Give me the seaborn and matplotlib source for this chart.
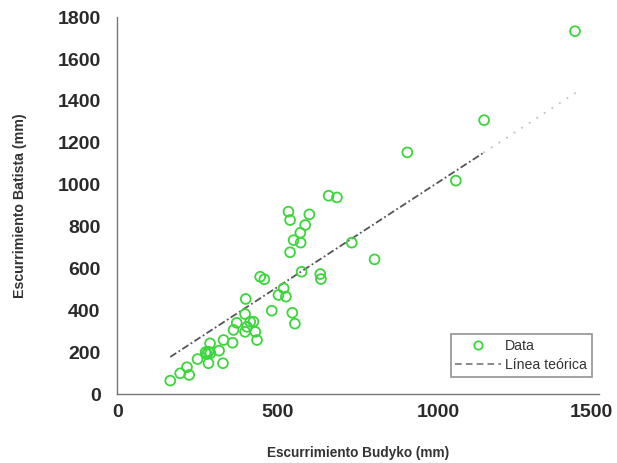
import matplotlib
matplotlib.use("Agg")
import matplotlib.pyplot as plt
import matplotlib.transforms as mtransforms
from matplotlib.lines import Line2D
import seaborn as sns
import pandas as pd

# Observed data (Budyko vs Batista runoff, mm)
budyko = [1425, 1142, 903, 1054, 658, 684, 533, 538, 598, 585, 570, 549, 571, 538,
          730, 801, 574, 632, 634, 445, 458, 518, 502, 525, 400, 481, 545, 553,
          398, 414, 424, 404, 398, 430, 435, 372, 362, 331, 359, 289, 317, 284,
          279, 290, 275, 284, 329, 250, 217, 196, 224, 165]
batista = [1733, 1308, 1154, 1019, 947, 939, 871, 831, 858, 807, 770, 735, 723, 677,
           723, 643, 584, 573, 549, 560, 548, 505, 473, 465, 454, 398, 388, 336,
           382, 345, 345, 321, 297, 297, 258, 340, 306, 258, 245, 242, 207, 202,
           191, 195, 200, 147, 147, 167, 128, 99, 91, 64]

# Theoretical line
line_x_main = [165, 1140]
line_y_main = [177, 1152]
line_x_ext = [1140, 1430]
line_y_ext = [1152, 1442]

xticks = [0, 500, 1000, 1500]
yticks = [0, 200, 400, 600, 800, 1000, 1200, 1400, 1600, 1800]

sns.set_style("white")
plt.rcParams['font.family'] = ['Liberation Sans', 'DejaVu Sans']

fig = plt.figure(figsize=(6.17, 4.63), dpi=100)
ax = fig.add_axes([0.19, 0.149, 0.781, 0.814])

green = '#3ad63a'
df = pd.DataFrame({'x': budyko, 'y': batista})
sns.scatterplot(data=df, x='x', y='y', ax=ax, s=50, facecolors='none',
                edgecolor=green, linewidth=1.3, legend=False, zorder=3)

dl = pd.DataFrame({'x': line_x_main, 'y': line_y_main})
sns.lineplot(data=dl, x='x', y='y', ax=ax, color='#555555', linewidth=1.3,
             linestyle=(0, (4, 1.5, 1, 1.5)), legend=False, zorder=2)
de = pd.DataFrame({'x': line_x_ext, 'y': line_y_ext})
sns.lineplot(data=de, x='x', y='y', ax=ax, color='#c0c0c0', linewidth=1.3,
             linestyle=(0, (1, 4)), legend=False, zorder=2)

ax.set_xlim(0, 1500)
ax.set_ylim(0, 1800)
ax.set_xticks(xticks)
ax.set_yticks(yticks)
ax.set_xticklabels([str(t) for t in xticks], fontsize=14, fontweight='bold', color='#2a2a2a')
ax.set_yticklabels([str(t) for t in yticks], fontsize=14, fontweight='bold', color='#2a2a2a')
ax.tick_params(direction='in', length=4, width=0.8, color='#777777')
ax.tick_params(axis='y', pad=12)
ax.tick_params(axis='x', pad=7)

# nudge last x tick label inward so it stays inside the figure
last = ax.get_xticklabels()[-1]
last.set_transform(last.get_transform() + mtransforms.ScaledTranslation(-8 / 100, 0, fig.dpi_scale_trans))

for s in ['top', 'right']:
    ax.spines[s].set_visible(False)
for s in ['left', 'bottom']:
    ax.spines[s].set_color('#777777')
    ax.spines[s].set_linewidth(1.0)

ax.set_xlabel('Escurrimiento Budyko (mm)', fontsize=9.8, fontweight='bold', color='#333333', labelpad=18)
ax.set_ylabel('Escurrimiento Batista (mm)', fontsize=10.2, fontweight='bold', color='#333333', labelpad=22)

handles = [Line2D([], [], marker='o', linestyle='none', markerfacecolor='none',
                  markeredgecolor=green, markeredgewidth=1.3, markersize=6),
           Line2D([], [], color='#777777', linestyle=(0, (4, 2.5)), linewidth=1.2)]
leg = ax.legend(handles, ['Data', 'Línea teórica'], loc='lower right',
                bbox_to_anchor=(0.985, 0.045), fontsize=10.2, frameon=True, fancybox=False,
                edgecolor='#777777', handlelength=3.2, handletextpad=0.3,
                borderpad=0.35, labelspacing=0.35, borderaxespad=0)
leg.get_frame().set_linewidth(1.2)
for t in leg.get_texts():
    t.set_color('#333333')

fig.savefig('out.png', dpi=100)
